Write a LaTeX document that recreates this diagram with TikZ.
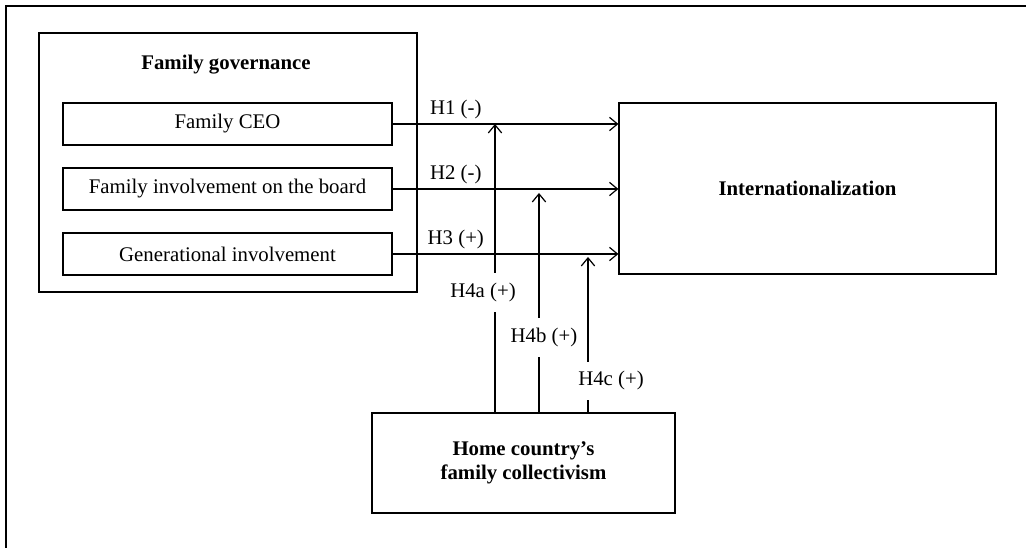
\documentclass[tikz,border=0pt]{standalone}
\usepackage{fontspec}
\setmainfont{Liberation Serif}
\usetikzlibrary{positioning}
\usetikzlibrary{arrows.meta}

\begin{document}
\begin{tikzpicture}[x=0.75pt,y=-0.75pt,line width=0.9pt,on grid,node distance=48.75pt,
        font=\fontsize{15.6}{18}\selectfont,
        bold/.style={font=\fontsize{15.6}{18}\selectfont\bfseries},
        varbox/.style={draw,minimum width=246.75pt,minimum height=31.5pt,inner sep=0pt},
        bigbox/.style={draw,inner sep=0pt,align=center},
        link/.style={-{Straight Barb[length=6pt,width=10pt]}},
        hyp/.style={fill=white,inner xsep=1pt,inner ysep=7.5pt}]
        % \draw[help lines] (0,0) grid (1026,548);
      \useasboundingbox (0,0) rectangle (1026,548);
      \draw[line width=1.7pt] (5.7,548) -- (5.7,6) -- (1026,6);

      \node[bigbox,minimum width=283.5pt,minimum height=194.25pt] (gov) at (228,162.5) {};
      \node[bold]   (govtitle) at (226,65)   {Family governance};
      \node[varbox] (ceo)      at (227.5,124) {Family CEO};
      \node[varbox] (board)    [below=of ceo]   {Family involvement on the board};
      \node[varbox] (gen)      [below=of board] {Generational involvement};

      \node[bigbox,bold,minimum width=282.75pt,minimum height=128.25pt] (intl) at (807.5,188.5) {Internationalization};
      \node[bigbox,bold,minimum width=227.25pt,minimum height=75pt] (home) at (523.5,463) {Home country’s\\family collectivism};

      \path[link] (ceo.east)   edge node[above,pos=0.28] {H1 (-)} (ceo.east -| intl.west)
                  (board.east) edge node[above,pos=0.28] {H2 (-)} (board.east -| intl.west)
                  (gen.east)   edge node[above,pos=0.28] {H3 (+)} (gen.east -| intl.west);

      % moderating effects
      \coordinate (t1) at (495,124);
      \coordinate (t2) at (539,193);
      \coordinate (t3) at (588,257);
      \path[link] (home.north -| t1) edge (t1)
                  (home.north -| t2) edge (t2)
                  (home.north -| t3) edge (t3);
      \node[hyp] (h4a) at (483,292.5) {H4a (+)};
      \node[hyp] (h4b) at (544,337.5) {H4b (+)};
      \node[hyp] (h4c) at (611,381)   {H4c (+)};
    \end{tikzpicture}
\end{document}
